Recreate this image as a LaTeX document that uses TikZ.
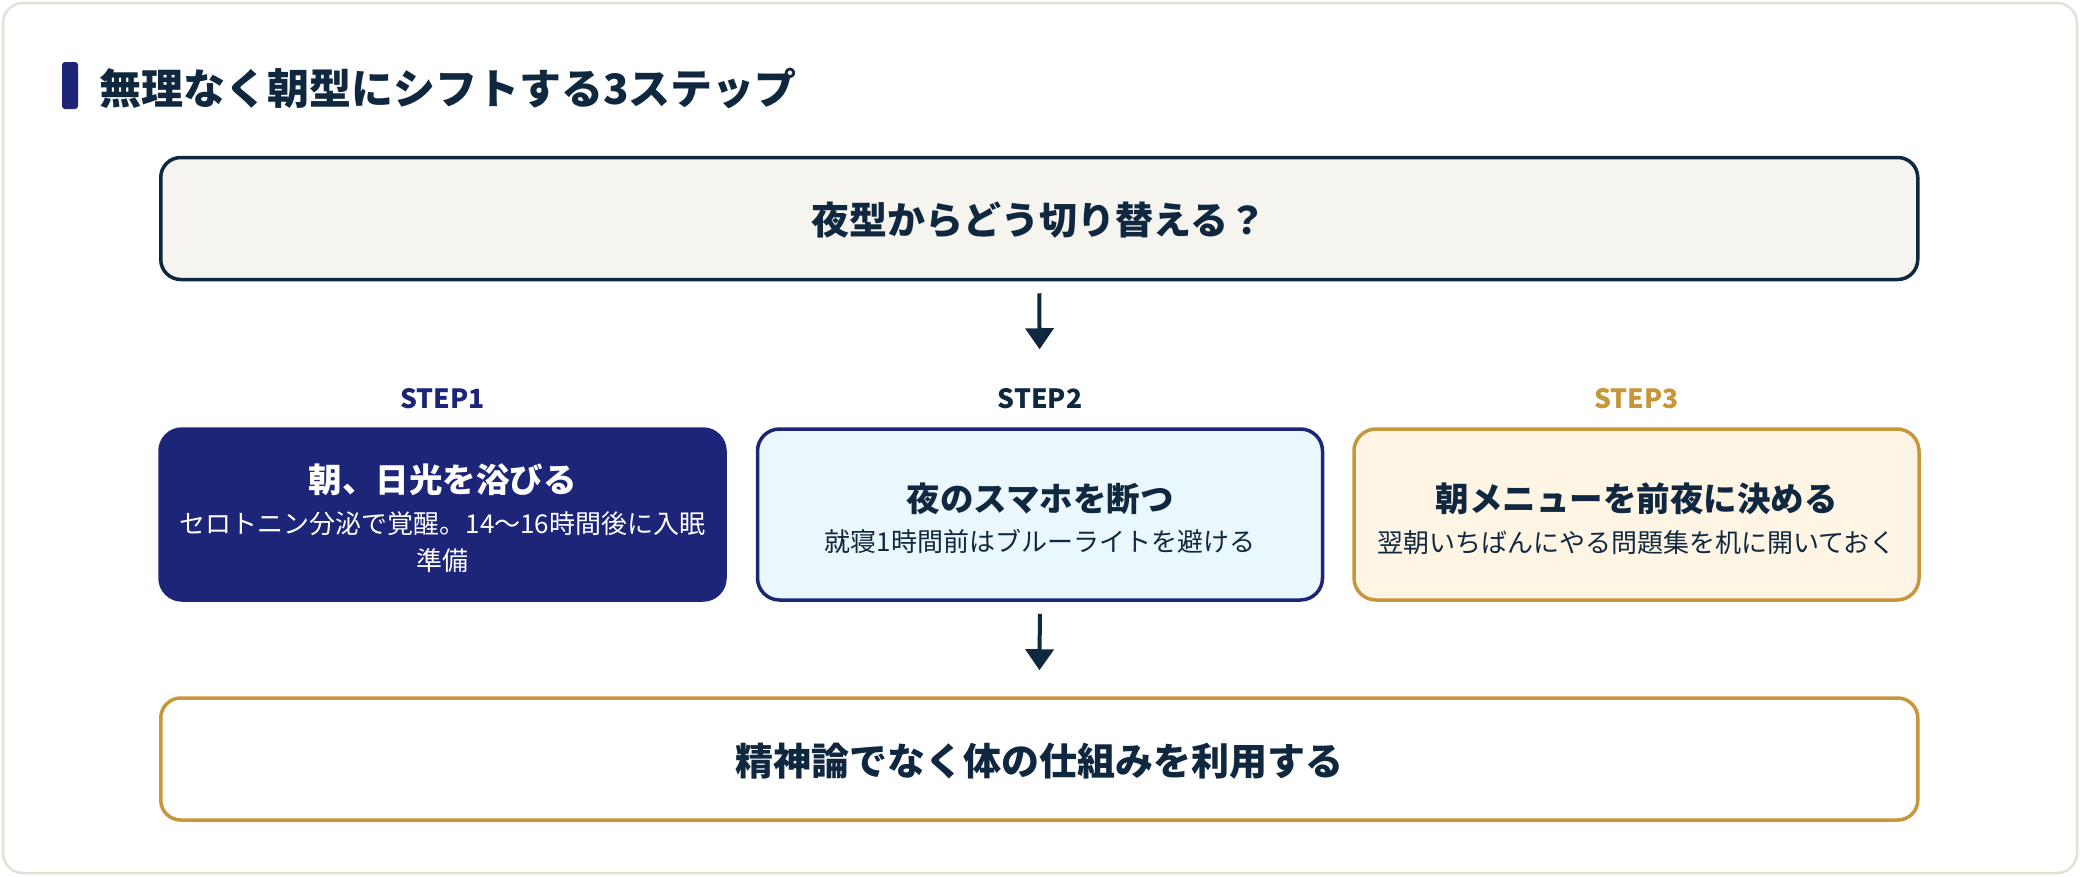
\documentclass[tikz,border=0pt]{standalone}
\usepackage{fontspec}
\setmainfont{Noto Sans CJK JP}
\usetikzlibrary{arrows.meta}
\definecolor{navy}{HTML}{1D2579}
\definecolor{ink}{HTML}{10283F}
\definecolor{gold}{HTML}{C8963A}
\definecolor{cream}{HTML}{FEF5E5}
\definecolor{ice}{HTML}{EAF7FD}
\definecolor{paper}{HTML}{F5F4EF}
\definecolor{cardline}{HTML}{E3E1D5}
\begin{document}
\begin{tikzpicture}[x=1pt,y=-1pt,
  card/.style={draw=cardline, fill=white, line width=2.5pt, rounded corners=20pt, inner sep=0pt},
  bigbox/.style={line width=3.5pt, rounded corners=20pt, inner sep=0pt, minimum width=1757pt, minimum height=122pt},
  stepbox/.style={line width=3.5pt, rounded corners=22pt, inner sep=0pt, minimum width=565pt, minimum height=171pt},
  txt/.style={inner sep=0pt, anchor=base},
  headtxt/.style={txt, font=\bfseries\fontsize{38pt}{46pt}\selectfont, text=ink},
  boxtitle/.style={txt, font=\bfseries\fontsize{33.5pt}{40pt}\selectfont},
  boxsub/.style={txt, font=\fontsize{26pt}{37pt}\selectfont},
  steplabel/.style={txt, font=\bfseries\fontsize{26.5pt}{30pt}\selectfont},
  arr/.style={draw=ink, line width=4pt, -{Triangle[length=21pt,width=28pt]}}
]
\useasboundingbox (0,0) rectangle (2080,876);
\node[card, minimum width=2074pt, minimum height=870pt] (card) at (1040,438) {};

% title
\node[fill=navy, rounded corners=3pt, inner sep=0pt, minimum width=16pt, minimum height=47pt] (bar) at (70,85.5) {};
\node[inner sep=0pt, anchor=base west, font=\bfseries\fontsize{42pt}{50pt}\selectfont, text=ink] (title) at (99,104) {無理なく朝型にシフトする3ステップ};

% question
\node[bigbox, draw=ink, fill=paper] (q) at (1039.25,218.5) {};
\node[headtxt] (qt) at (1039.25,234) {夜型からどう切り替える？};

% step labels
\node[steplabel, text=navy] (l1) at (442.5,408) {STEP1};
\node[steplabel, text=ink] (l2) at (1040,408) {STEP2};
\node[steplabel, text=gold] (l3) at (1636.5,408) {STEP3};

% step boxes
\node[stepbox, draw=navy, fill=navy] (s1) at (442.5,514.5) {};
\node[stepbox, draw=navy, fill=ice] (s2) at (1040,514.5) {};
\node[stepbox, draw=gold, fill=cream] (s3) at (1636.5,514.5) {};

\node[boxtitle, text=white] (s1t) at (442.5,492.5) {朝、日光を浴びる};
\node[boxsub, text=white] (s1a) at (442.5,533) {セロトニン分泌で覚醒。14〜16時間後に入眠};
\node[boxsub, text=white] (s1b) at (442.5,570) {準備};

\node[boxtitle, text=ink] (s2t) at (1040,511.5) {夜のスマホを断つ};
\node[boxsub, text=ink] (s2a) at (1040,551) {就寝1時間前はブルーライトを避ける};

\node[boxtitle, text=ink] (s3t) at (1636.5,511.5) {朝メニューを前夜に決める};
\node[boxsub, text=ink] (s3a) at (1636.5,552) {翌朝いちばんにやる問題集を机に開いておく};

% conclusion
\node[bigbox, draw=gold, fill=white] (c) at (1039.25,759) {};
\node[headtxt] (ct) at (1039.25,775.5) {精神論でなく体の仕組みを利用する};

% arrows
\draw[arr, shorten <=12pt, shorten >=78pt] (q.south) -- (s2.north);
\draw[arr, shorten <=12pt, shorten >=26pt] (s2.south) -- (c.north);
\end{tikzpicture}
\end{document}
